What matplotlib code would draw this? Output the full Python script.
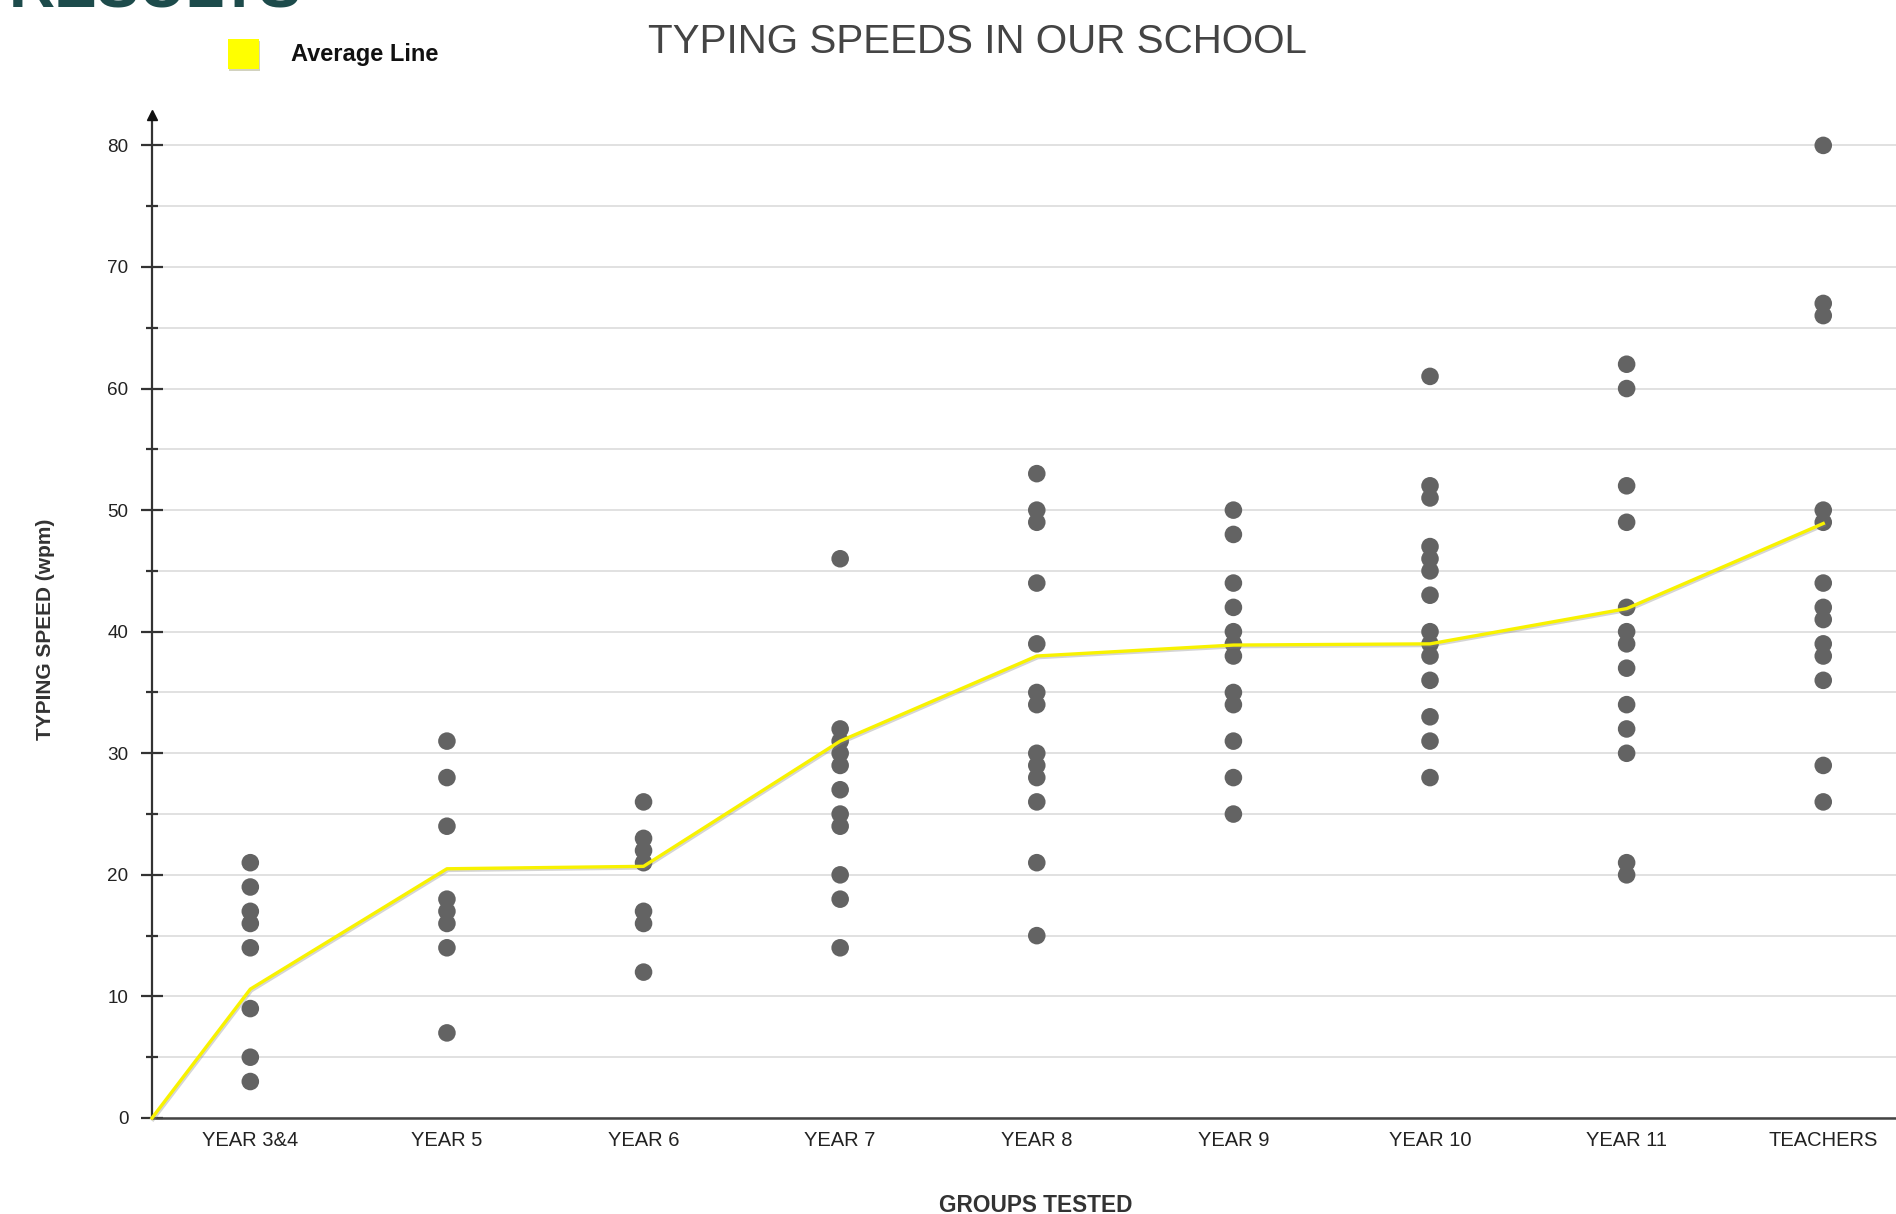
import numpy as np
import matplotlib
matplotlib.use("Agg")
import matplotlib.pyplot as plt
import matplotlib.patheffects as pe
from matplotlib import font_manager
from matplotlib.ticker import MultipleLocator

# groups on the x axis
groups = ["YEAR 3&4", "YEAR 5", "YEAR 6", "YEAR 7", "YEAR 8",
          "YEAR 9", "YEAR 10", "YEAR 11", "TEACHERS"]

# individual typing speeds (wpm) per group
year34 = [21, 19, 17, 16, 14, 9, 5, 3]
year5 = [31, 28, 24, 18, 17, 16, 14, 7]
year6 = [26, 23, 22, 21, 17, 16, 12]
year7 = [46, 32, 31, 30, 29, 27, 25, 24, 20, 18, 14]
year8 = [53, 50, 49, 44, 39, 35, 34, 30, 29, 28, 26, 21, 15]
year9 = [50, 48, 44, 42, 40, 39, 38, 35, 34, 31, 28, 25]
year10 = [61, 52, 51, 47, 46, 45, 43, 40, 39, 38, 36, 33, 31, 28]
year11 = [62, 60, 52, 49, 42, 40, 39, 37, 34, 32, 30, 21, 20]
teachers = [80, 67, 66, 50, 49, 44, 42, 41, 39, 38, 36, 29, 26]
speeds = [year34, year5, year6, year7, year8, year9, year10, year11, teachers]

# average line (starts at the origin of the axes)
averages = [10.6, 20.5, 20.7, 31.0, 38.0, 38.9, 39.0, 41.9, 48.9]

# fonts: narrow sans if we have it, else squeeze the size a bit
have = {f.name for f in font_manager.fontManager.ttflist}
if "Liberation Sans Narrow" in have:
    cond, k = "Liberation Sans Narrow", 1.0
else:
    cond, k = "Liberation Sans", 0.88
plt.rcParams["font.family"] = ["Liberation Sans", "DejaVu Sans"]

W, H = 1896, 1214
fig = plt.figure(figsize=(W / 100, H / 100), dpi=100)
fig.patch.set_facecolor("white")

ax = fig.add_axes([152 / W, 96 / H, 1 - 152 / W, 1003 / H])
ax.set_xlim(0.5, 9.37)
ax.set_ylim(0, 82.5)

pos = np.arange(1, len(groups) + 1)

# dots
for p, vals in zip(pos, speeds):
    ax.scatter(np.full(len(vals), p), vals, s=160, color="#636363",
               edgecolors="none", zorder=3)

# average line from the axis origin
line_x = np.concatenate([[ax.get_xlim()[0]], pos])
line_y = np.concatenate([[0], averages])
ax.plot(line_x, line_y, color="#f8f200", lw=2.4, zorder=4, clip_on=False,
        path_effects=[pe.SimpleLineShadow(offset=(0.8, -1.2), shadow_color="#888888", alpha=0.35),
                      pe.Normal()])

# axes styling
for s in ["top", "right"]:
    ax.spines[s].set_visible(False)
ax.spines["left"].set_color("#333333")
ax.spines["left"].set_linewidth(1.6)
ax.spines["bottom"].set_color("#444444")
ax.spines["bottom"].set_linewidth(1.8)

ax.yaxis.set_minor_locator(MultipleLocator(5))
ax.set_yticks([0, 10, 20, 30, 40, 50, 60, 70, 80])
ax.tick_params(axis="y", which="major", direction="inout", length=16, width=1.6,
               color="#333333", pad=9, labelsize=15.5 * k, labelcolor="#222222")
ax.tick_params(axis="y", which="minor", direction="inout", length=8, width=1.6,
               color="#333333")
for lab in ax.get_yticklabels():
    lab.set_family(cond)

ax.set_xticks(pos)
ax.set_xticklabels(groups, family=cond, fontsize=16.5 * k, color="#222222")
ax.tick_params(axis="x", length=0, pad=9)

ax.grid(axis="y", which="both", color="#dedede", lw=1.3)
ax.set_axisbelow(True)

# arrow head on the y axis
ax.plot(0.5, 1, marker="^", ms=7, color="#111111", transform=ax.get_xaxis_transform(),
        clip_on=False, zorder=5)

# labels
fig.text(46 / W, 1 - 629 / H, "TYPING SPEED (wpm)", rotation=90, ha="center", va="center",
         fontsize=15, fontweight="bold", color="#333333")
fig.text(1036 / W, 1 - 1205 / H, "GROUPS TESTED", ha="center", va="center",
         fontsize=18.5 * k, fontweight="bold", color="#333333", family=cond)

# title
fig.text(977 / W, 1 - 42 / H, "TYPING SPEEDS IN OUR SCHOOL", ha="center", va="center",
         fontsize=35 * 0.83, color="#444444", family=cond)

# legend
fig.patches.append(plt.Rectangle((228 / W, 1 - 69 / H), 31 / W, 30 / H, transform=fig.transFigure,
                                 facecolor="#ffff00", edgecolor="none",
                                 path_effects=[pe.SimplePatchShadow(offset=(1, -1.5), alpha=0.25), pe.Normal()]))
fig.text(291 / W, 1 - 55 / H, "Average Line", ha="left", va="center",
         fontsize=17, fontweight="bold", color="#111111")

# the page heading cut off at the top edge
fig.text(302 / W, 1 - 7 / H, "RESULTS", ha="right", va="baseline",
         fontsize=46, fontweight="bold", color="#1d4b4b")

fig.savefig("out.png", dpi=100, facecolor="white")
